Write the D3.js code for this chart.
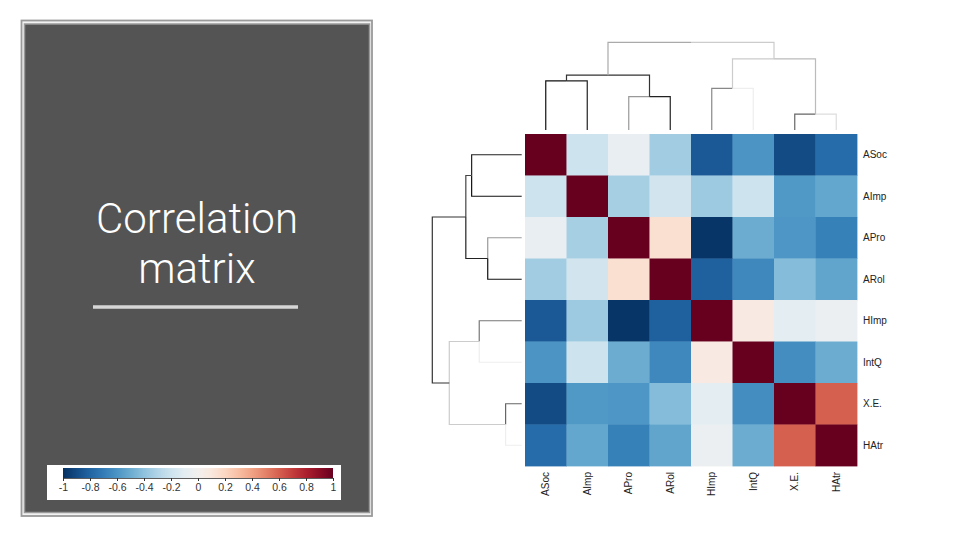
<!DOCTYPE html>
<html>
<head>
<meta charset="utf-8">
<script src="https://cdn.jsdelivr.net/npm/d3@7"></script>
<style>
  body { margin: 0; background: #fff; }
  text { font-family: "Liberation Sans", Arial, sans-serif; }
</style>
</head>
<body>
<div id="chart"></div>
<script>
// variables, in clustered order
var labels = ["ASoc", "AImp", "APro", "ARol", "HImp", "IntQ", "X.E.", "HAtr"];

// correlation matrix, rows/cols in the same order as labels
var corr = [
  [ 1.00, -0.20, -0.07, -0.35, -0.85, -0.60, -0.90, -0.77],
  [-0.20,  1.00, -0.33, -0.18, -0.36, -0.20, -0.58, -0.52],
  [-0.07, -0.33,  1.00,  0.15, -0.98, -0.50, -0.59, -0.68],
  [-0.35, -0.18,  0.15,  1.00, -0.82, -0.65, -0.43, -0.53],
  [-0.85, -0.36, -0.98, -0.82,  1.00,  0.08, -0.10, -0.05],
  [-0.60, -0.20, -0.50, -0.65,  0.08,  1.00, -0.63, -0.50],
  [-0.90, -0.58, -0.59, -0.43, -0.10, -0.63,  1.00,  0.60],
  [-0.77, -0.52, -0.68, -0.53, -0.05, -0.50,  0.60,  1.00]
];

// dendrogram merges: [node, left child, right child, height]
var merges = [
  ["n1", "ASoc", "AImp", 0.56],
  ["n2", "APro", "ARol", 0.38],
  ["n3", "HImp", "IntQ", 0.475],
  ["n4", "X.E.", "HAtr", 0.18],
  ["n5", "n1", "n2", 0.625],
  ["n6", "n3", "n4", 0.81],
  ["root", "n5", "n6", 1.0]
];

var legendTicks = [-1, -0.8, -0.6, -0.4, -0.2, 0, 0.2, 0.4, 0.6, 0.8, 1];

var titleLines = ["Correlation", "matrix"];

// stroke shades of the dendrogram links (by child name)
var topStroke = {
  ASoc: "#111", AImp: "#222", APro: "#999", ARol: "#222",
  HImp: "#888", IntQ: "#eee", "X.E.": "#666", HAtr: "#ddd",
  n1: "#333", n2: "#333", n3: "#ccc", n4: "#bbb", n5: "#aaa", n6: "#ccc"
};
var leftStroke = {
  ASoc: "#222", AImp: "#111", APro: "#999", ARol: "#111",
  HImp: "#777", IntQ: "#eee", "X.E.": "#666", HAtr: "#eee",
  n1: "#444", n2: "#222", n3: "#ccc", n4: "#ccc", n5: "#333", n6: "#333"
};

var svgWidth = 960;
var svgHeight = 540;

var svg = d3.select("#chart")
  .append("svg")
  .attr("width", svgWidth)
  .attr("height", svgHeight);

// ---------- left title panel ----------
var panel = svg.append("g");
panel.append("rect")
  .attr("x", 21.5).attr("y", 20.5)
  .attr("width", 350.5).attr("height", 495.5)
  .attr("fill", "#f2f2f2")
  .attr("stroke", "#9a9a9a").attr("stroke-width", 1.8);
panel.append("rect")
  .attr("x", 24.5).attr("y", 24)
  .attr("width", 345).attr("height", 488.5)
  .attr("fill", "#545454")
  .attr("stroke", "#9a9a9a").attr("stroke-width", 1.5);

// title, one text per line
panel.selectAll(".title")
  .data(titleLines)
  .enter()
  .append("text")
  .attr("class", "title")
  .attr("x", 197)
  .attr("y", (d, i) => 233 + i * 50)
  .attr("text-anchor", "middle")
  .style("font-family", "Roboto, 'Open Sans', sans-serif")
  .style("font-weight", 300)
  .style("font-size", "42px")
  .attr("fill", "#fff")
  .text(d => d);

panel.append("line")
  .attr("x1", 93).attr("x2", 298)
  .attr("y1", 307).attr("y2", 307)
  .attr("stroke", "#d6d6d6").attr("stroke-width", 3.5);

// ---------- colour scale ----------
var color = d3.scaleSequential(d3.interpolateRdBu).domain([1, -1]);

// legend
var legendScale = d3.scaleLinear().domain([-1, 1]).range([63, 333]);
var defs = svg.append("defs");
var grad = defs.append("linearGradient").attr("id", "rdbu");
d3.range(0, 1.0001, 0.05).forEach(function(t) {
  grad.append("stop")
    .attr("offset", (t * 100) + "%")
    .attr("stop-color", color(-1 + 2 * t));
});
svg.append("rect")
  .attr("x", 47).attr("y", 465)
  .attr("width", 294).attr("height", 35)
  .attr("fill", "#fff");
svg.append("rect")
  .attr("x", legendScale(-1)).attr("y", 468)
  .attr("width", legendScale(1) - legendScale(-1)).attr("height", 10)
  .attr("fill", "url(#rdbu)");
var legendAxis = svg.append("g")
  .attr("transform", "translate(0, 478)")
  .call(d3.axisBottom(legendScale)
    .tickValues(legendTicks)
    .tickFormat(d => String(d))
    .tickSize(3)
    .tickSizeOuter(0)
    .tickPadding(3));
legendAxis.select(".domain").attr("stroke", "#333").attr("stroke-width", 0.8);
legendAxis.selectAll(".tick line").attr("stroke", "#333");
legendAxis.selectAll("text")
  .style("font-size", "10.5px")
  .attr("fill", "#333");

// ---------- heatmap ----------
var x = d3.scaleBand().domain(labels).range([525, 857]);
var y = d3.scaleBand().domain(labels).range([134, 466]);

var cells = [];
corr.forEach(function(row, i) {
  row.forEach(function(v, j) {
    cells.push({ r: labels[i], c: labels[j], v: v });
  });
});

svg.append("g")
  .selectAll("rect")
  .data(cells)
  .enter()
  .append("rect")
  .attr("x", d => x(d.c))
  .attr("y", d => y(d.r))
  .attr("width", x.bandwidth() + 0.4)
  .attr("height", y.bandwidth() + 0.4)
  .attr("fill", d => color(d.v));

// row labels
svg.append("g")
  .selectAll("text")
  .data(labels)
  .enter()
  .append("text")
  .attr("x", 863)
  .attr("y", d => y(d) + y.bandwidth() / 2)
  .attr("dy", "0.35em")
  .style("font-size", "10px")
  .attr("fill", "#222")
  .text(d => d);

// column labels
svg.append("g")
  .selectAll("text")
  .data(labels)
  .enter()
  .append("text")
  .attr("transform", d => `translate(${x(d) + x.bandwidth() / 2}, 472) rotate(-90)`)
  .attr("dy", "0.35em")
  .attr("text-anchor", "end")
  .style("font-size", "10px")
  .attr("fill", "#222")
  .text(d => d);

// ---------- dendrograms ----------
var heightOf = {};
labels.forEach(function(l) { heightOf[l] = 0; });
merges.forEach(function(m) { heightOf[m[0]] = m[3]; });

function positions(scale) {
  var pos = {};
  labels.forEach(function(l) { pos[l] = scale(l) + scale.bandwidth() / 2; });
  merges.forEach(function(m) { pos[m[0]] = (pos[m[1]] + pos[m[2]]) / 2; });
  return pos;
}

var links = [];
merges.forEach(function(m) {
  links.push({ parent: m[0], child: m[1] });
  links.push({ parent: m[0], child: m[2] });
});

// top (column) dendrogram
var hTop = d3.scaleLinear().domain([0, 1]).range([130, 42.3]);
var colPos = positions(x);
svg.append("g")
  .selectAll("path")
  .data(links)
  .enter()
  .append("path")
  .attr("d", d => "M" + colPos[d.child] + "," + hTop(heightOf[d.child]) +
    "V" + hTop(heightOf[d.parent]) + "H" + colPos[d.parent])
  .attr("fill", "none")
  .attr("stroke", d => topStroke[d.child])
  .attr("stroke-width", 1.2);

// left (row) dendrogram
var hLeft = d3.scaleLinear().domain([0, 1]).range([521.7, 432.3]);
var rowPos = positions(y);
svg.append("g")
  .selectAll("path")
  .data(links)
  .enter()
  .append("path")
  .attr("d", d => "M" + hLeft(heightOf[d.child]) + "," + rowPos[d.child] +
    "H" + hLeft(heightOf[d.parent]) + "V" + rowPos[d.parent])
  .attr("fill", "none")
  .attr("stroke", d => leftStroke[d.child])
  .attr("stroke-width", 1.2);
</script>
</body>
</html>
